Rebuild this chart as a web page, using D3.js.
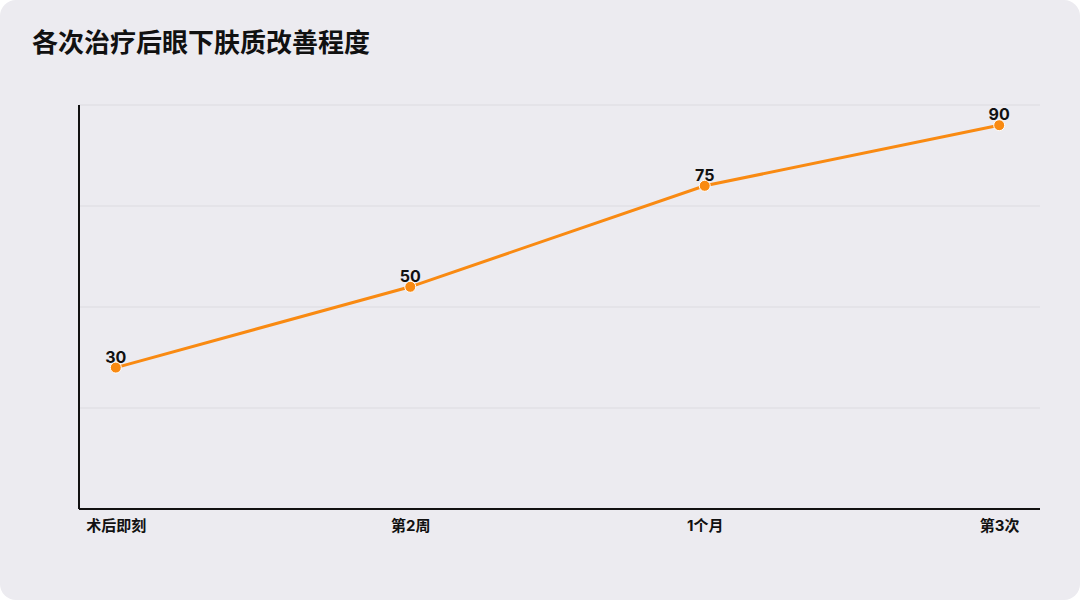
<!DOCTYPE html>
<html><head><meta charset="utf-8">
<script src="https://cdn.jsdelivr.net/npm/d3@7"></script>
<style>
html,body{margin:0;padding:0;background:#ffffff;}
svg{display:block;}
</style></head>
<body>
<svg id="chart" width="1080" height="600"></svg>
<script>
const title = "各次治疗后眼下肤质改善程度";
const categories = ["术后即刻", "第2周", "1个月", "第3次"];
const values = [30, 50, 75, 90];
const yDomain = [-5, 95];
const gridValues = [20, 45, 70, 95];

(function(){
const svg = d3.select("#chart");
const W = 1080, H = 600;
const font = "Inter, 'Noto Sans CJK SC', 'Noto Sans', sans-serif";

svg.append("rect").attr("x",0).attr("y",0).attr("width",W).attr("height",H)
  .attr("rx",16).attr("fill","#ecebf0");

svg.append("text").attr("x",32).attr("y",52).text(title)
  .attr("font-family",font).attr("font-size",26).attr("font-weight",700).attr("fill","#111");

const mLeft = 79, mRight = 1040, mTop = 105, mBottom = 509;
const x = d3.scalePoint().domain(categories).range([mLeft, mRight - 4]).padding(0.125);
const y = d3.scaleLinear().domain(yDomain).range([mBottom, mTop]);

svg.append("g").selectAll("line").data(gridValues).join("line")
  .attr("x1",mLeft).attr("x2",mRight).attr("y1",d=>y(d)).attr("y2",d=>y(d))
  .attr("stroke","#dcdbe0").attr("stroke-width",1);

const xAxis = svg.append("g").attr("transform",`translate(0,${mBottom})`)
  .call(d3.axisBottom(x).tickSize(0).tickPadding(11));
xAxis.select(".domain").attr("stroke","#111").attr("stroke-width",2)
  .attr("d",`M${mLeft},0H${mRight}`);
xAxis.selectAll("text").attr("font-family",font).attr("font-size",15)
  .attr("font-weight",700).attr("fill","#111");

const yAxis = svg.append("g").attr("transform",`translate(${mLeft},0)`)
  .call(d3.axisLeft(y).tickValues([]).tickSize(0));
yAxis.select(".domain").attr("stroke","#111").attr("stroke-width",2)
  .attr("d",`M0,${mTop}V${mBottom}`);

const data = categories.map((c,i)=>({c, v: values[i]}));

svg.append("path").datum(data)
  .attr("d", d3.line().x(d=>x(d.c)).y(d=>y(d.v)))
  .attr("fill","none").attr("stroke","#f98a12").attr("stroke-width",3);

svg.append("g").selectAll("circle").data(data).join("circle")
  .attr("cx",d=>x(d.c)).attr("cy",d=>y(d.v)).attr("r",5.5)
  .attr("fill","#f98a12").attr("stroke","#ffffff").attr("stroke-width",1);

svg.append("g").selectAll("text").data(data).join("text")
  .attr("x",d=>x(d.c)).attr("y",d=>y(d.v)-5)
  .attr("text-anchor","middle").text(d=>d.v)
  .attr("font-family",font).attr("font-size",16).attr("font-weight",700).attr("fill","#111");
})();
</script>
</body></html>
